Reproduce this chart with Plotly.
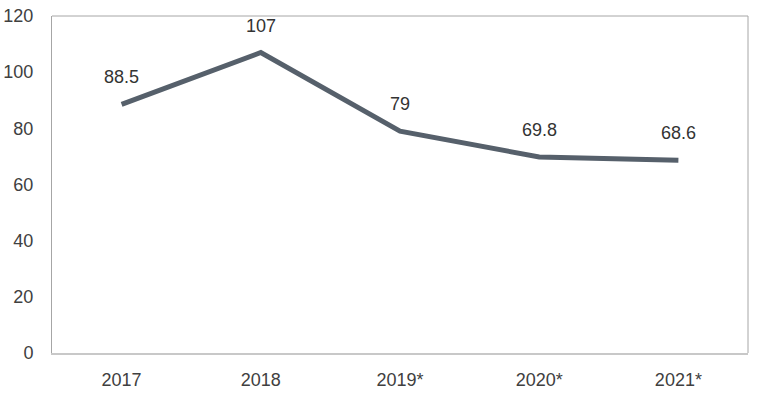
import plotly.graph_objects as go

years = ["2017", "2018", "2019*", "2020*", "2021*"]
values = [88.5, 107, 79, 69.8, 68.6]
value_labels = ["88.5", "107", "79", "69.8", "68.6"]
y_ticks = [0, 20, 40, 60, 80, 100, 120]

fig = go.Figure()
fig.add_trace(go.Scatter(
    x=list(range(len(years))), y=values, mode="lines",
    line=dict(color="#56606b", width=5),
    hoverinfo="skip", showlegend=False,
))
for i, (y, t) in enumerate(zip(values, value_labels)):
    fig.add_annotation(x=i, y=y, text=t, showarrow=False, yshift=27,
                       font=dict(size=18, color="#333333", family="Liberation Sans, Arial"))

fig.update_layout(
    width=759, height=400,
    margin=dict(l=52, r=11, t=16, b=47),
    paper_bgcolor="white", plot_bgcolor="white",
    font=dict(family="Liberation Sans, Arial", size=18, color="#404040"),
    xaxis=dict(range=[-0.5, 4.5], tickvals=list(range(len(years))), ticktext=years,
               showgrid=False, zeroline=False, automargin=False,
               showline=True, linecolor="#c8c8c8", linewidth=2, mirror=False,
               ticks="outside", ticklen=9, tickcolor="rgba(0,0,0,0)",
               fixedrange=True),
    yaxis=dict(range=[0, 120], tickvals=y_ticks, showgrid=False, zeroline=False,
               automargin=False,
               showline=True, linecolor="#a6a6a6", linewidth=1, mirror=False,
               ticks="outside", ticklen=14, tickcolor="rgba(0,0,0,0)",
               fixedrange=True),
    shapes=[
        dict(type="line", xref="paper", yref="paper", x0=0, x1=1, y0=1, y1=1,
             line=dict(color="#a6a6a6", width=1)),
        dict(type="line", xref="paper", yref="paper", x0=1, x1=1, y0=0, y1=1,
             line=dict(color="#a6a6a6", width=1)),
    ],
)
fig.write_html("out.html",
               config={"displayModeBar": False, "staticPlot": True},
               post_script="document.body.style.margin='0';document.body.style.overflow='hidden';")
